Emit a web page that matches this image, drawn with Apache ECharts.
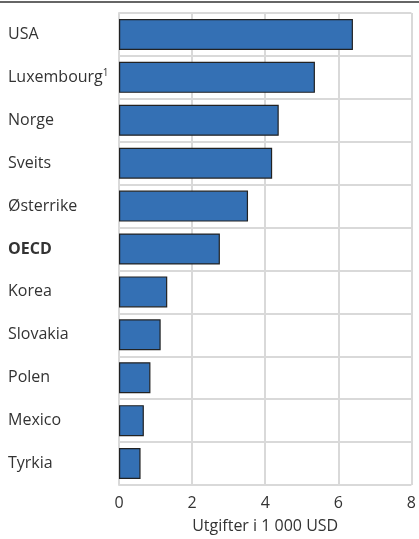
<!DOCTYPE html>
<html>
<head>
<meta charset="utf-8">
<script src="https://cdn.jsdelivr.net/npm/echarts@6/dist/echarts.min.js"></script>
<style>html,body{margin:0;padding:0;background:#fff}#main{width:419px;height:539px}</style>
</head>
<body>
<div id="main"></div>
<script>
// countries from top to bottom
var countries = ['USA', 'Luxembourg', 'Norge', 'Sveits', 'Østerrike', 'OECD', 'Korea', 'Slovakia', 'Polen', 'Mexico', 'Tyrkia'];
// utgifter i 1 000 USD
var spending = [6.4, 5.36, 4.37, 4.19, 3.53, 2.76, 1.32, 1.14, 0.86, 0.68, 0.59];
var xTicks = [0, 2, 4, 6, 8];

var myChart = echarts.init(document.getElementById('main'));

var option = {
  backgroundColor: '#fff',
  animation: false,
  textStyle: { fontFamily: 'Open Sans' },
  graphic: [{
    type: 'line',
    shape: { x1: 0, y1: 2, x2: 419, y2: 2 },
    style: { stroke: '#333', lineWidth: 1.5 }
  }],
  grid: { left: 119, right: 4, top: 13, bottom: 53 },
  xAxis: {
    type: 'value',
    min: xTicks[0],
    max: xTicks[xTicks.length - 1],
    interval: 2,
    name: 'Utgifter i 1 000 USD',
    nameLocation: 'middle',
    nameGap: 33,
    nameTextStyle: { fontSize: 16, color: '#333' },
    axisLine: { show: false },
    axisTick: { show: false },
    axisLabel: { fontSize: 16, color: '#333', margin: 10 },
    splitLine: { show: true, lineStyle: { color: '#d9d9d9', width: 2 } }
  },
  yAxis: {
    type: 'category',
    inverse: true,
    data: countries,
    axisLine: { show: true, lineStyle: { color: '#d9d9d9', width: 2 } },
    axisTick: { show: false },
    splitLine: { show: true, lineStyle: { color: '#d9d9d9', width: 2 } },
    axisLabel: {
      align: 'left',
      margin: 111,
      fontSize: 16,
      color: '#333',
      formatter: function (v) {
        if (v === 'OECD') return '{b|' + v + '}';
        if (v === 'Luxembourg') return v + '{sup|1}';
        return v;
      },
      rich: {
        b: { fontWeight: 'bold', fontSize: 16, color: '#333' },
        sup: { fontSize: 10, color: '#333', verticalAlign: 'top', padding: [0, 0, 8, 0] }
      }
    }
  },
  series: [{
    type: 'bar',
    data: spending,
    barWidth: 31,
    itemStyle: { color: '#3470b4', borderColor: '#222', borderWidth: 1.2 }
  }]
};

myChart.setOption(option);
</script>
</body>
</html>
